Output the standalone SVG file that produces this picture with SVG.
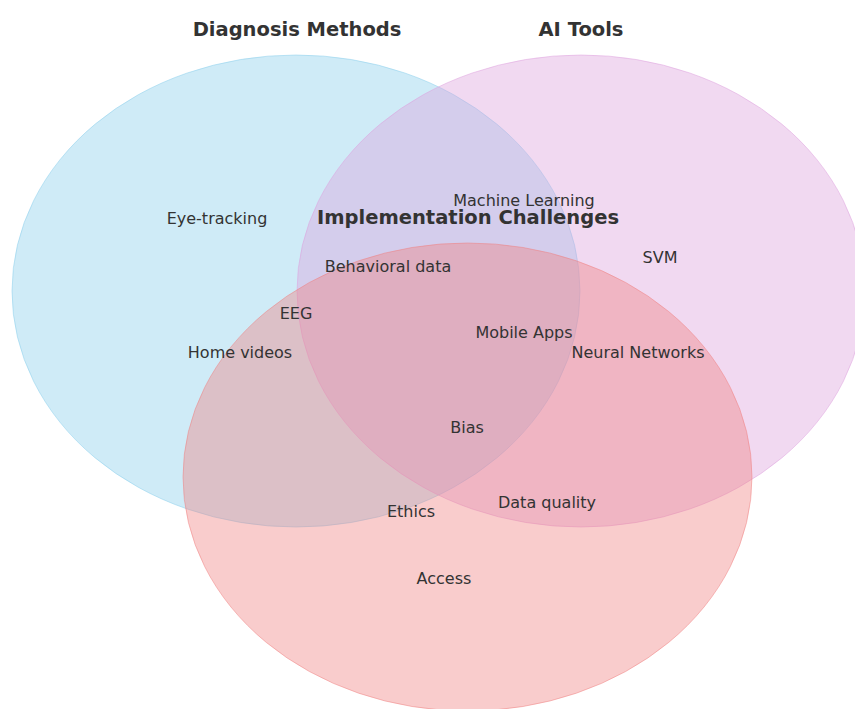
<svg xmlns="http://www.w3.org/2000/svg" width="855" height="709" viewBox="0 0 855 709">
  <style>
    .set { fill-opacity: 0.4; stroke-opacity: 0.5; stroke-width: 1; }
    .title { font-family: "DejaVu Sans", sans-serif; font-weight: bold; font-size: 19.5px; fill: #333333; text-anchor: middle; }
    .item { font-family: "DejaVu Sans", sans-serif; font-size: 16px; fill: #333333; text-anchor: middle; }
  </style>
  <rect width="855" height="709" fill="#ffffff"/>

  <!-- set circles -->
  <g id="set-diagnosis">
    <ellipse class="set" cx="296" cy="291" rx="284" ry="236" fill="#87CEEB" stroke="#87CEEB"/>
  </g>
  <g id="set-ai-tools">
    <ellipse class="set" cx="581" cy="291" rx="284" ry="236" fill="#DDA0DD" stroke="#DDA0DD"/>
  </g>
  <g id="set-challenges">
    <ellipse class="set" cx="467.5" cy="477" rx="284.5" ry="234" fill="#F08080" stroke="#F08080"/>
  </g>

  <!-- set titles -->
  <g id="titles">
    <text class="title" x="297" y="36">Diagnosis Methods</text>
    <text class="title" x="581" y="36">AI Tools</text>
    <text class="title" x="468" y="224">Implementation Challenges</text>
  </g>

  <!-- members -->
  <g id="items">
    <text class="item" x="217" y="224">Eye-tracking</text>
    <text class="item" x="524" y="206">Machine Learning</text>
    <text class="item" x="388" y="272">Behavioral data</text>
    <text class="item" x="660" y="263">SVM</text>
    <text class="item" x="296" y="319">EEG</text>
    <text class="item" x="240" y="358">Home videos</text>
    <text class="item" x="524" y="338">Mobile Apps</text>
    <text class="item" x="638" y="358">Neural Networks</text>
    <text class="item" x="467" y="433">Bias</text>
    <text class="item" x="411" y="517">Ethics</text>
    <text class="item" x="547" y="508">Data quality</text>
    <text class="item" x="444" y="584">Access</text>
  </g>
</svg>
